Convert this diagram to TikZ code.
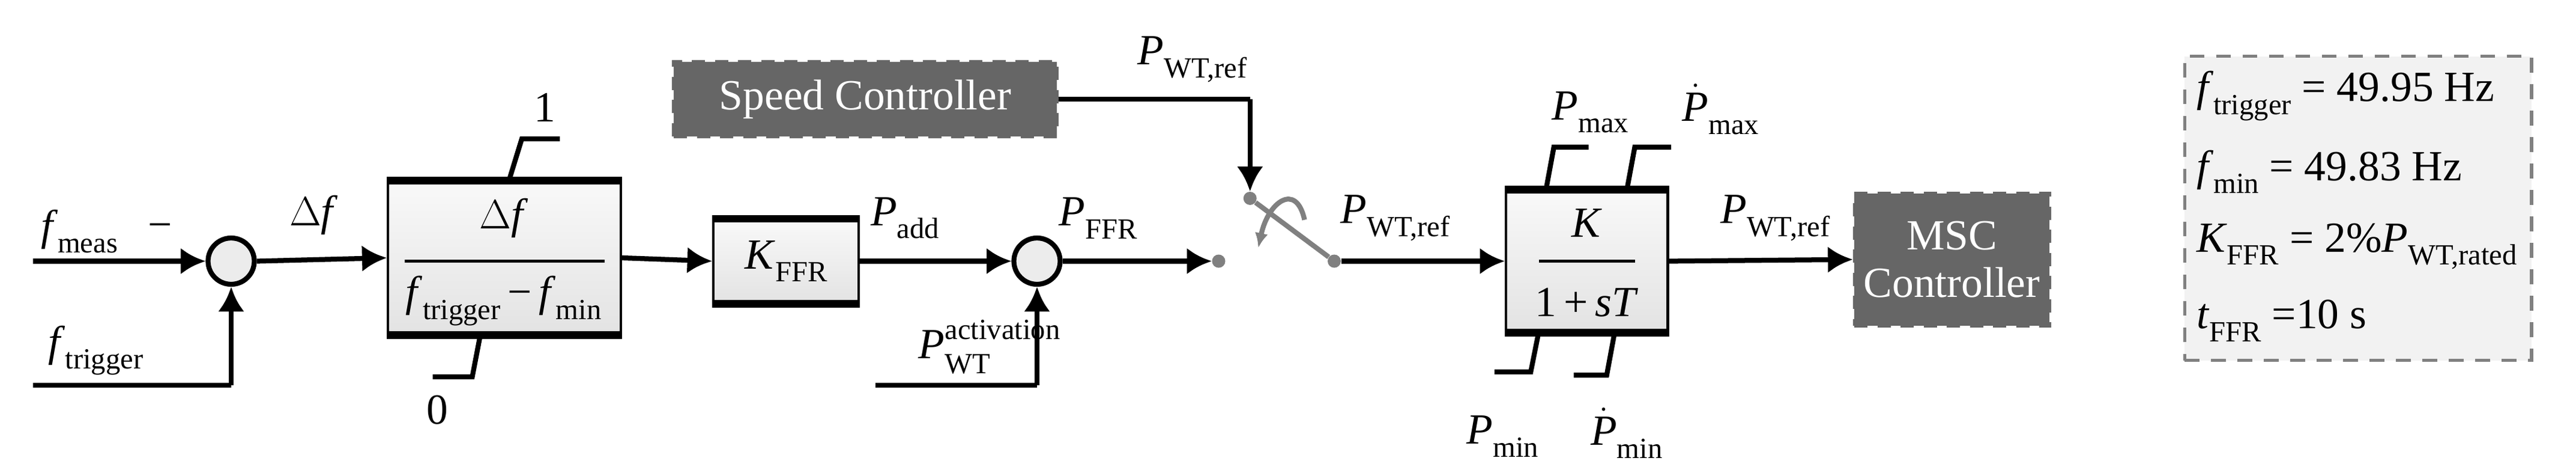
\documentclass[tikz,border=0pt]{standalone}
\usepackage{fontspec}
\setmainfont{Liberation Serif}
\newfontfamily\tnr{Liberation Serif}
\usetikzlibrary{arrows.meta}
\newcommand\sbs[2]{\textit{#1}\raisebox{-0.3em}{\scalebox{0.68}{#2}}}
\newcommand\sbd[2]{$\dot{\mbox{\textit{#1}}}$\raisebox{-0.3em}{\scalebox{0.68}{#2}}}
\begin{document}
\begin{tikzpicture}[x=1pt,y=-1pt,
  every node/.style={font=\tnr\fontsize{26}{29}\selectfont,inner sep=0pt},
  ln/.style={line width=3pt},
  ar/.style={ln,-{Latex[length=15pt,width=16pt]}},
  blk/.style={draw,line width=1.5pt,top color=gray!5,bottom color=gray!22},
  topb/.style={line width=4.5pt},
  sum/.style={circle,draw,line width=3pt,fill=gray!15,minimum width=24pt,minimum height=28pt},
  gbox/.style={draw=gray!80!black,fill=gray!80!black,dashed,dash pattern=on 8pt off 6pt,line width=2pt,text=white},
  sw/.style={draw=gray,line width=3pt}]
\useasboundingbox (0,0) rectangle (1560,284);
% sum 1
\node[sum] (s1) at (140,158) {};
\coordinate (fm) at (20,158);
\coordinate (ft) at (20,233);
\coordinate (ftc) at (140,233);
\draw[ar] (fm) -- (s1.west);
\draw[ln] (ft) -- (ftc);
\draw[ar] (ftc) -- (s1.south);
\node (lfm) at (48,140) {\sbs{f}{meas}};
\node (lminus) at (97,140) {−};
\node (lft) at (58,212) {\sbs{f}{trigger}};
% saturation block
\node[blk,minimum width=141pt,minimum height=92pt] (sat) at (305.5,156) {};
\draw[topb] (sat.north west) -- (sat.north east);
\draw[topb] (sat.south west) -- (sat.south east);
\node (satt) at (305,132) {$\Delta$\textit{f}};
\draw[line width=1.5pt] (245,158) -- (366,158);
\node (satb) at (305,182) {\sbs{f}{trigger}\,−\,\sbs{f}{min}};
\draw[ar] (s1.east) -- (sat.west);
\node (ldf) at (190,130) {$\Delta$\textit{f}};
\coordinate (u1) at (316,84); \coordinate (u2) at (339,84);
\draw[ln] (308,110) -- (u1) -- (u2);
\node (l1) at (330,65) {1};
\coordinate (d1) at (286,228); \coordinate (d2) at (262,228);
\draw[ln] (291,202) -- (d1) -- (d2);
\node (l0) at (265,248) {0};
% K block
\node[blk,minimum width=88pt,minimum height=50pt] (k) at (476,158) {\sbs{K}{FFR}};
\draw[topb] (k.north west) -- (k.north east);
\draw[topb] (k.south west) -- (k.south east);
\draw[ar] (sat.east) -- (k.west);
% sum 2
\node[sum] (s2) at (628,158) {};
\draw[ar] (k.east) -- (s2.west);
\node (lpadd) at (548,132) {\sbs{P}{add}};
\coordinate (pa) at (530,233); \coordinate (pac) at (628,233);
\draw[ln] (pa) -- (pac);
\draw[ar] (pac) -- (s2.south);
\node (lpact) at (578,210) {\textit{P}\makebox[0pt][l]{\raisebox{0.45em}{\scalebox{0.68}{activation}}}\raisebox{-0.35em}{\scalebox{0.68}{WT}}\hspace{2.2em}};
\node (lpffr) at (665,132) {\sbs{P}{FFR}};
% switch
\node[circle,fill=gray,minimum size=8pt] (c1) at (738,158) {};
\node[circle,fill=gray,minimum size=8pt] (c2) at (757,120) {};
\node[circle,fill=gray,minimum size=8pt] (c3) at (808,158) {};
\draw[ar] (s2.east) -- (c1.west);
\draw[sw] (c2) -- (c3);
\draw[sw,-{Latex[length=9pt,width=8pt]}] (790,133) .. controls (785,110) and (768,122) .. (762,150);
% speed controller
\node[gbox,minimum width=232pt,minimum height=45pt] (spd) at (524,60) {Speed Controller};
\coordinate (sc) at (757,60);
\draw[ln] (spd.east) -- (sc);
\draw[ar] (sc) -- (c2.north);
\node (lpref1) at (722,36) {\sbs{P}{WT,ref}};
% transfer block
\node[blk,minimum width=98pt,minimum height=85pt] (tf) at (961,158) {};
\draw[topb] (tf.north west) -- (tf.north east);
\draw[topb] (tf.south west) -- (tf.south east);
\node (tft) at (961,135) {\textit{K}};
\draw[line width=1.5pt] (932,158) -- (990,158);
\node (tfb) at (961,183) {1\,+\,\textit{sT}};
\draw[ar] (c3.east) -- (tf.west);
\node (lpref2) at (845,132) {\sbs{P}{WT,ref}};
% limits
\draw[ln] (936,116) -- (941,89) -- (962,89);
\draw[ln] (985,116) -- (990,89) -- (1012,89);
\draw[ln] (932,200) -- (927,225) -- (905,225);
\draw[ln] (978,200) -- (973,227) -- (953,227);
\node (lpmax) at (963,68) {\sbs{P}{max}};
\node (lpdmax) at (1042,66) {\sbd{P}{max}};
\node (lpmin) at (910,264) {\sbs{P}{min}};
\node (lpdmin) at (985,262) {\sbd{P}{min}};
% MSC
\node[gbox,minimum width=118pt,minimum height=80pt,align=center] (msc) at (1182,157) {MSC\\Controller};
\draw[ar] (tf.east) -- (msc.west);
\node (lpref3) at (1075,132) {\sbs{P}{WT,ref}};
% parameter box
\node[draw=gray,fill=gray!10,dashed,dash pattern=on 9pt off 7pt,line width=2pt,minimum width=210pt,minimum height=184pt] (par) at (1428,126) {};
\node[anchor=west] (p1) at (1330,58) {\sbs{f}{trigger} = 49.95 Hz};
\node[anchor=west] (p2) at (1330,104) {\sbs{f}{min} = 49.83 Hz};
\node[anchor=west] (p3) at (1330,149) {\sbs{K}{FFR} = 2\%\sbs{P}{WT,rated}};
\node[anchor=west] (p4) at (1330,194) {\sbs{t}{FFR} =10 s};
\end{tikzpicture}
\end{document}
